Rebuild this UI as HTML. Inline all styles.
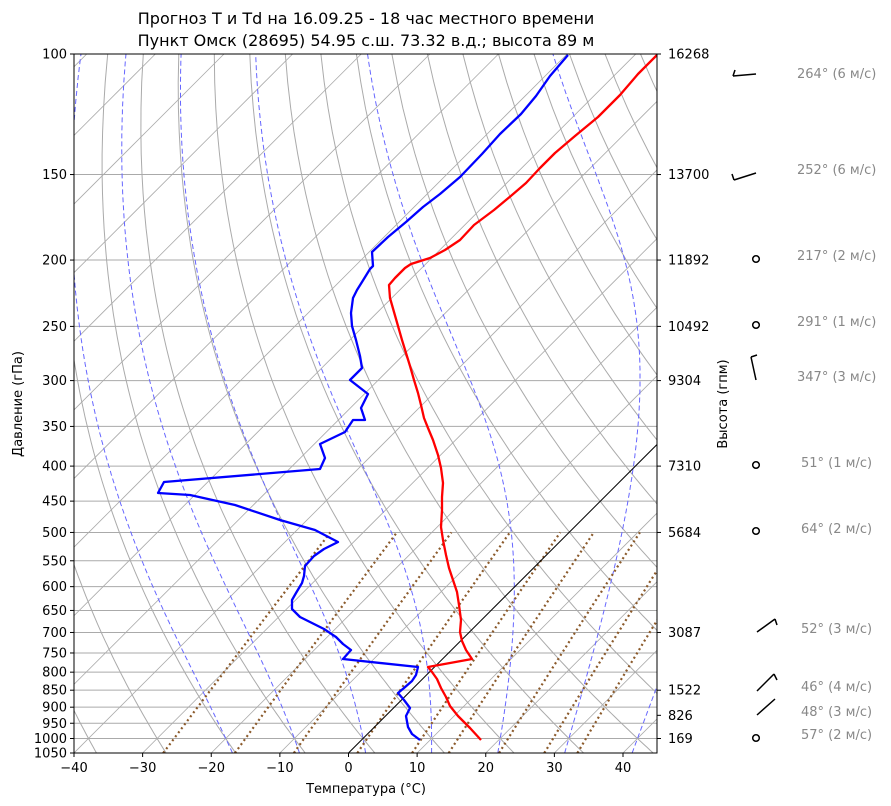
<!DOCTYPE html>
<html><head><meta charset="utf-8"><style>
body{margin:0;background:#fff;}
svg{display:block;font-family:"DejaVu Sans","Liberation Sans",sans-serif;}
</style></head><body>
<svg id="s" width="891" height="806" xmlns="http://www.w3.org/2000/svg">
<defs><clipPath id="c"><rect x="74" y="54" width="583" height="699"/></clipPath></defs>
<rect width="891" height="806" fill="#fff"/>
<g id="grid" clip-path="url(#c)"></g>
<g id="ax"></g>
<text x="366" y="24" font-size="16" text-anchor="middle">Прогноз T и Td на 16.09.25 - 18 час местного времени</text>
<text x="366" y="46" font-size="16" text-anchor="middle">Пункт Омск (28695) 54.95 с.ш. 73.32 в.д.; высота 89 м</text>
<text x="366" y="793" font-size="13" text-anchor="middle">Температура (°C)</text>
<text transform="translate(22,404) rotate(-90)" font-size="13" text-anchor="middle">Давление (гПа)</text>
<text transform="translate(727,404) rotate(-90)" font-size="13" text-anchor="middle">Высота (гпм)</text>
<g stroke="#000" stroke-width="1.5" fill="none">
<path d="M733 76 L756 74 M733 76 L735 70"/>
<path d="M734 180 L756 173 M734 180 L732 174"/>
<circle cx="756" cy="259" r="3.3"/>
<circle cx="756" cy="325" r="3.3"/>
<path d="M756 380 L751 357 M751 357 L757 355"/>
<circle cx="756" cy="465" r="3.3"/>
<circle cx="756" cy="531" r="3.3"/>
<path d="M757 632 L775 619 M775 619 L777 625"/>
<path d="M757 691 L774 674 M774 674 L777 680"/>
<path d="M757 715 L775 699"/>
<circle cx="756" cy="738" r="3.3"/>
</g>
<g font-size="13" fill="#888">
<text x="797" y="78">264° (6 м/с)</text>
<text x="797" y="174">252° (6 м/с)</text>
<text x="797" y="260">217° (2 м/с)</text>
<text x="797" y="326">291° (1 м/с)</text>
<text x="797" y="381">347° (3 м/с)</text>
<text x="801" y="467">51° (1 м/с)</text>
<text x="801" y="533">64° (2 м/с)</text>
<text x="801" y="633">52° (3 м/с)</text>
<text x="801" y="691">46° (4 м/с)</text>
<text x="801" y="716">48° (3 м/с)</text>
<text x="801" y="739">57° (2 м/с)</text>
</g>
</svg>
<script>
var NS="http://www.w3.org/2000/svg";
function Y(p){return 54+684.5*Math.log10(p/100);}
function X(T,p){return 348.5+6.8625*T+(753-Y(p));}
var g=document.getElementById('grid'),ax=document.getElementById('ax');
function el(par,tag,a,txt){var e=document.createElementNS(NS,tag);for(var k in a)e.setAttribute(k,a[k]);if(txt!=null)e.textContent=txt;par.appendChild(e);return e;}
function path(pts){return 'M'+pts.map(function(q){return q[0].toFixed(1)+' '+q[1].toFixed(1)}).join(' L');}
var P=[100,150,200,250,300,350,400,450,500,550,600,650,700,750,800,850,900,950,1000,1050];
P.forEach(function(p){el(g,'line',{x1:74,x2:657,y1:Y(p),y2:Y(p),stroke:'#aaa','stroke-width':1});});
for(var T=-150;T<=60;T+=10){ if(T==0)continue; el(g,'line',{x1:X(T,1050),y1:753,x2:X(T,100),y2:54,stroke:'#aaa','stroke-width':0.8});}
var ps=[];for(var p=1050;p>=100;p-=10)ps.push(p);
for(var th=-60;th<=260;th+=10){var pts=ps.map(function(p){var t=(th+273.15)*Math.pow(p/1000,0.286)-273.15;return [X(t,p),Y(p)];});el(g,'path',{d:path(pts),stroke:'#aaa','stroke-width':1,fill:'none'});}
function es(t){return 6.112*Math.exp(17.67*t/(t+243.5));}
function dTdp(T,p){var Tk=T+273.15,e=es(T),rs=0.622*e/(p-e),Rd=287,Lv=2.501e6,Cp=1005;return (Rd*Tk+Lv*rs)/(Cp+Lv*Lv*rs*0.622/(Rd*Tk*Tk))/p;}
for(var t0=-20;t0<=40;t0+=10){var t=t0,p=1000;var up=[];while(p>=100){up.push([X(t,p),Y(p)]);t-=dTdp(t,p)*1;p-=1;}
 t=t0;p=1000;var dn=[];while(p<=1050){dn.unshift([X(t,p),Y(p)]);t+=dTdp(t,p)*1;p+=1;}
 el(g,'path',{d:path(dn.concat(up)),stroke:'#6666ff','stroke-width':1,fill:'none','stroke-dasharray':'5,3'});}
[0.0004,0.001,0.002,0.004,0.007,0.01,0.016,0.024,0.032].forEach(function(w){var pts=[];for(var p=1050;p>=500;p-=10){var e=w*p/(0.622+w),l=Math.log(e/6.112),td=243.5*l/(17.67-l);pts.push([X(td,p),Y(p)]);}
 el(g,'path',{d:path(pts),stroke:'#8b5a2b','stroke-width':2.2,fill:'none','stroke-dasharray':'2,3'});});
el(g,'line',{x1:348.5,y1:753,x2:657,y2:444.5,stroke:'#000','stroke-width':1});
var red=[[481,740],[470,728],[458,716],[450,706],[446,697],[441,688],[437,679],[432,672],[428,667],[472,659],[466,650],[462,641],[460,632],[461,620],[459,605],[457,592],[453,580],[449,568],[446,555],[443,540],[441,527],[442,510],[442,497],[443,483],[441,468],[438,455],[433,440],[428,428],[424,418],[421,405],[418,393],[414,380],[410,366],[406,353],[402,340],[398,326],[394,312],[390,298],[389,285],[395,278],[405,268],[411,264],[430,258],[445,250],[460,240],[474,225],[494,210],[512,195],[526,183],[540,168],[555,153],[575,136],[598,117],[620,95],[638,74],[657,55]];
var blue=[[420,740],[412,734],[408,727],[406,716],[410,708],[404,700],[398,693],[404,688],[412,681],[416,675],[418,667],[343,659],[351,650],[343,644],[336,637],[324,629],[300,617],[292,609],[292,600],[296,593],[302,583],[304,576],[305,566],[314,556],[324,549],[338,542],[315,530],[280,520],[235,505],[190,495],[158,493],[164,482],[320,469],[325,458],[320,444],[345,432],[353,420],[365,420],[361,408],[368,394],[350,380],[362,368],[360,356],[356,340],[352,326],[351,313],[353,298],[357,290],[362,282],[370,269],[373,266],[372,252],[388,237],[406,222],[423,207],[440,194],[460,177],[482,154],[500,134],[521,114],[536,96],[550,76],[568,55]];
el(g,'path',{d:path(red),stroke:'#ff0000','stroke-width':2.3,fill:'none','stroke-linejoin':'round'});
el(g,'path',{d:path(blue),stroke:'#0000ff','stroke-width':2.3,fill:'none','stroke-linejoin':'round'});
el(ax,'rect',{x:74,y:54,width:583,height:699,fill:'none',stroke:'#000','stroke-width':1});
P.forEach(function(p){var y=Y(p);el(ax,'line',{x1:70,x2:74,y1:y,y2:y,stroke:'#000'});el(ax,'text',{x:67,y:y+4.5,'font-size':13,'text-anchor':'end'},p);});
for(var T=-40;T<=40;T+=10){var x=348.5+6.8625*T;el(ax,'line',{x1:x,x2:x,y1:753,y2:757,stroke:'#000'});el(ax,'text',{x:x,y:772,'font-size':13,'text-anchor':'middle'},T<0?'\u2212'+(-T):T);}
[[100,'16268'],[150,'13700'],[200,'11892'],[250,'10492'],[300,'9304'],[400,'7310'],[500,'5684'],[700,'3087'],[850,'1522'],[925,'826'],[1000,'169']].forEach(function(a){var y=Y(a[0]);el(ax,'line',{x1:657,x2:661,y1:y,y2:y,stroke:'#000'});el(ax,'text',{x:668,y:y+4.5,'font-size':13},a[1]);});
</script>
</body></html>
